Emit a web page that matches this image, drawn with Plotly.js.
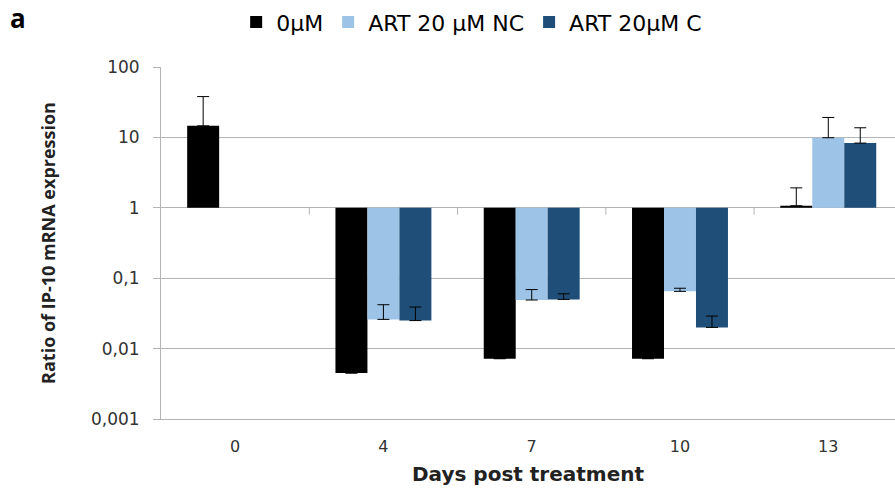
<!DOCTYPE html>
<html>
<head>
<meta charset="utf-8">
<script src="https://cdn.plot.ly/plotly-3.0.1.min.js"></script>
<style>html,body{margin:0;padding:0;overflow:hidden;background:#fff}</style>
</head>
<body>
<div id="chart" style="width:895px;height:495px"></div>
<script>
// Data
var days = ['0', '4', '7', '10', '13'];
var seriesNames = ['0\u03bcM', 'ART 20 \u03bcM NC', 'ART 20\u03bcM C'];
var ctrlValues = [14.6, 0.0045, 0.0072, 0.0072, 1.07];
var ncValues = [null, 0.026, 0.049, 0.065, 9.9];
var cValues = [null, 0.025, 0.050, 0.020, 8.3];
var ctrlErr = [23.4, null, null, null, 0.85];
var ncErr = [null, 0.016, 0.020, 0.007, 9.3];
var cErr = [null, 0.014, 0.010, 0.009, 5.4];
var yTickVals = [0.001, 0.01, 0.1, 1, 10, 100];
var yTickText = ['0,001', '0,01', '0,1', '1', '10', '100'];
var colors = ['#000000', '#9dc3e6', '#1f4e79'];

var BASE = 1;
function mk(vals, errs, name, color) {
  return {
    type: 'bar',
    x: days,
    y: vals.map(function (v) { return v === null ? null : v - BASE; }),
    base: BASE,
    name: name,
    marker: {color: color, line: {width: 0}},
    error_y: {
      type: 'data', symmetric: false,
      array: errs.map(function (e) { return e === null ? 0 : e; }),
      arrayminus: errs.map(function () { return 0; }),
      visible: true, color: '#000', thickness: 1, width: 6
    },
    hoverinfo: 'skip'
  };
}
var traces = [
  mk(ctrlValues, ctrlErr, seriesNames[0], colors[0]),
  mk(ncValues, ncErr, seriesNames[1], colors[1]),
  mk(cValues, cErr, seriesNames[2], colors[2])
];

var gridCol = '#b4b4b4';
var tickShapes = [0.5, 1.5, 2.5, 3.5].map(function (p) {
  return {type: 'line', xref: 'x', yref: 'paper', x0: p, x1: p, y0: 0.6, y1: 0.6 - 7 / 352,
          line: {color: gridCol, width: 1}};
});

var wide = 'DejaVu Sans, Verdana, sans-serif';
var layout = {
  width: 895, height: 495,
  margin: {l: 161, r: 0, t: 67, b: 76},
  paper_bgcolor: '#fff', plot_bgcolor: '#fff',
  font: {family: wide, color: '#333'},
  barmode: 'group', bargap: 0.353, bargroupgap: 0,
  showlegend: true,
  legend: {orientation: 'h', xref: 'container', yref: 'container', x: 0.527, xanchor: 'center',
           y: 0.955, yanchor: 'middle', font: {size: 22, color: '#000', family: wide}, itemwidth: 30,
           traceorder: 'normal'},
  xaxis: {
    type: 'category', range: [-0.5, 4.45], showgrid: false, zeroline: false,
    showline: true, linecolor: gridCol, linewidth: 1,
    ticks: '', tickfont: {size: 16, color: '#333'}, ticklabelstandoff: 13,
    title: {text: 'Days post treatment', font: {size: 20, color: '#222', weight: 'bold', family: wide}, standoff: 11}
  },
  yaxis: {
    type: 'log', range: [-3, 2], tickvals: yTickVals, ticktext: yTickText,
    showgrid: true, gridcolor: gridCol, gridwidth: 1, zeroline: false,
    showline: true, linecolor: gridCol, linewidth: 1,
    ticks: 'outside', ticklen: 7, tickcolor: gridCol, ticklabelstandoff: 10,
    tickfont: {size: 17, color: '#333'},
    title: {text: 'Ratio of IP-10 mRNA expression', font: {size: 18, color: '#222', weight: 'bold', family: 'Open Sans, sans-serif'}, standoff: 30}
  },
  shapes: tickShapes,
  annotations: [{
    text: '<b>a</b>', xref: 'paper', yref: 'paper', x: -0.208, y: 1.14,
    xanchor: 'left', yanchor: 'middle', showarrow: false, font: {size: 26, color: '#000', family: 'Open Sans, sans-serif'}
  }]
};

Plotly.newPlot('chart', traces, layout, {displayModeBar: false, staticPlot: true});
</script>
</body>
</html>
